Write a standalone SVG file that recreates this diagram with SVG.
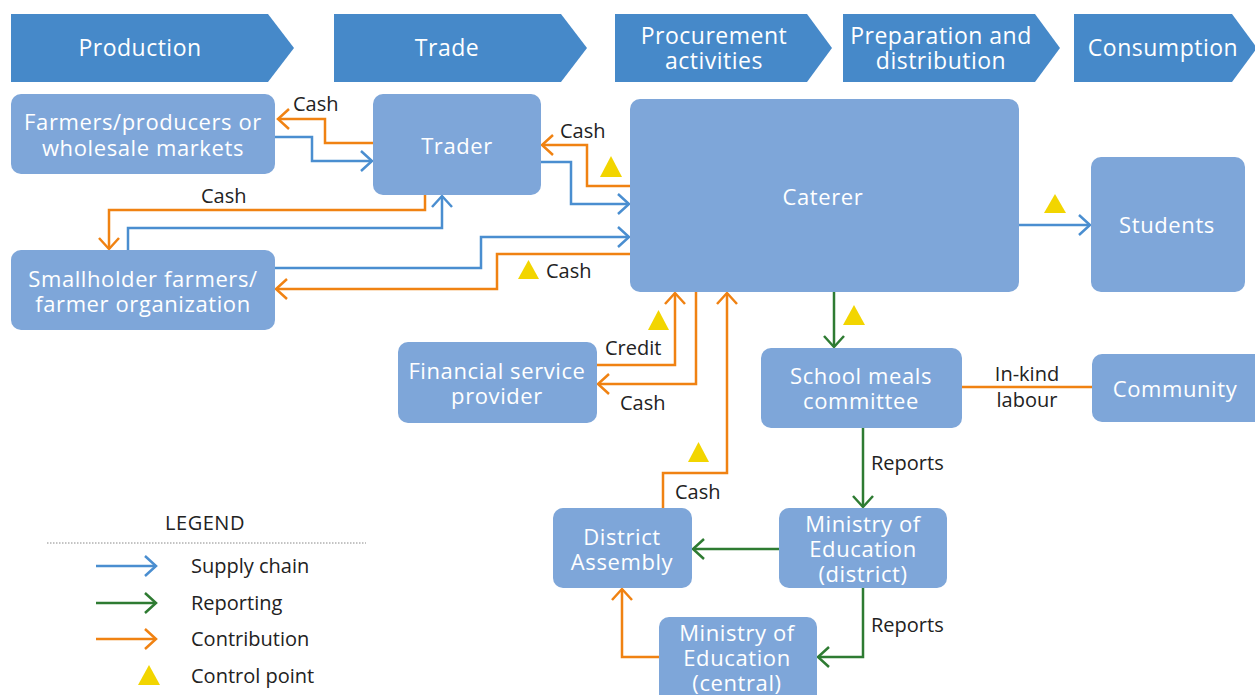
<svg xmlns="http://www.w3.org/2000/svg" width="1255" height="695" viewBox="0 0 1255 695">
<style>
.hd{fill:#4689c9}
.hdt{fill:#fff;font-family:"Open Sans","Noto Sans",sans-serif;font-size:23px;letter-spacing:0.5px;text-anchor:middle}
.nd{fill:#7ea6d9}
.nt{fill:#fff;font-family:"Open Sans","Noto Sans",sans-serif;font-size:22px;letter-spacing:0.6px;text-anchor:middle}
.lb{fill:#222;font-family:"Open Sans","Noto Sans",sans-serif;font-size:20px}
.b{fill:none;stroke:#4a8ed0;stroke-width:2.5}
.o{fill:none;stroke:#f08212;stroke-width:2.5}
.g{fill:none;stroke:#2e7b32;stroke-width:2.5}
.tri{fill:#f2d500}
</style>
<defs>
<marker id="ab" markerUnits="userSpaceOnUse" markerWidth="16" markerHeight="26" viewBox="-14 -12 16 24" refX="0" refY="0" orient="auto"><path d="M-11,-10 L0,0 L-11,10" fill="none" stroke="#4a8ed0" stroke-width="2.5"/></marker>
<marker id="ao" markerUnits="userSpaceOnUse" markerWidth="16" markerHeight="26" viewBox="-14 -12 16 24" refX="0" refY="0" orient="auto"><path d="M-11,-10 L0,0 L-11,10" fill="none" stroke="#f08212" stroke-width="2.5"/></marker>
<marker id="ag" markerUnits="userSpaceOnUse" markerWidth="16" markerHeight="26" viewBox="-14 -12 16 24" refX="0" refY="0" orient="auto"><path d="M-11,-10 L0,0 L-11,10" fill="none" stroke="#2e7b32" stroke-width="2.5"/></marker>
</defs>

<g id="stages">
<g id="stage-production"><polygon class="hd" points="11,14 268,14 294,48 268,82 11,82"/><text class="hdt" x="140" y="56">Production</text></g>
<g id="stage-trade"><polygon class="hd" points="334,14 561,14 587,48 561,82 334,82"/><text class="hdt" x="447" y="56">Trade</text></g>
<g id="stage-procurement"><polygon class="hd" points="615,14 807,14 832,48 807,82 615,82"/><text class="hdt" x="714" y="44">Procurement<tspan x="714" dy="25">activities</tspan></text></g>
<g id="stage-preparation"><polygon class="hd" points="843,14 1035,14 1060,48 1035,82 843,82"/><text class="hdt" x="941" y="44">Preparation and<tspan x="941" dy="25">distribution</tspan></text></g>
<g id="stage-consumption"><polygon class="hd" points="1074,14 1232,14 1257,48 1232,82 1074,82"/><text class="hdt" x="1163" y="56">Consumption</text></g>
</g>

<g id="connectors">
<path class="o" d="M373,143 H325 V119 H278" marker-end="url(#ao)"/>
<path class="b" d="M275,137 H312 V161 H372" marker-end="url(#ab)"/>
<path class="o" d="M630,186 H587 V145 H542" marker-end="url(#ao)"/>
<path class="b" d="M541,162 H571 V204 H629" marker-end="url(#ab)"/>
<path class="o" d="M425,195 V210 H109 V249" marker-end="url(#ao)"/>
<path class="b" d="M128,250 V228 H442 V196" marker-end="url(#ab)"/>
<path class="b" d="M275,268 H481 V237 H629" marker-end="url(#ab)"/>
<path class="o" d="M630,254 H497 V289 H276" marker-end="url(#ao)"/>
<path class="o" d="M597,365 H675 V293" marker-end="url(#ao)"/>
<path class="o" d="M696,292 V384 H598" marker-end="url(#ao)"/>
<path class="o" d="M663,508 V473 H727 V293" marker-end="url(#ao)"/>
<path class="g" d="M834,292 V347" marker-end="url(#ag)"/>
<path class="o" d="M962,387 H1092"/>
<path class="g" d="M863,428 V507" marker-end="url(#ag)"/>
<path class="g" d="M779,549 H693" marker-end="url(#ag)"/>
<path class="g" d="M863,588 V657 H818" marker-end="url(#ag)"/>
<path class="o" d="M659,657 H622 V589" marker-end="url(#ao)"/>
<path class="b" d="M1019,225 H1090" marker-end="url(#ab)"/>
<text class="lb" x="293" y="111">Cash</text>
<text class="lb" x="560" y="138">Cash</text>
<text class="lb" x="201" y="203">Cash</text>
<text class="lb" x="546" y="278">Cash</text>
<text class="lb" x="605" y="355">Credit</text>
<text class="lb" x="620" y="410">Cash</text>
<text class="lb" x="675" y="499">Cash</text>
<text class="lb" x="1027" y="381" text-anchor="middle">In-kind<tspan x="1027" dy="26">labour</tspan></text>
<text class="lb" x="871" y="470">Reports</text>
<text class="lb" x="871" y="632">Reports</text>
</g>

<g id="control-points">
<polygon class="tri" points="600,177 611,156 622,177"/>
<polygon class="tri" points="518,279 528.5,260 539,279"/>
<polygon class="tri" points="648,330 658.5,310 669,330"/>
<polygon class="tri" points="688,462 698.5,442 709,462"/>
<polygon class="tri" points="843,325 854,305 865,325"/>
<polygon class="tri" points="1044,213 1055,194 1066,213"/>
</g>

<g id="node-farmers"><rect class="nd" x="11" y="94" width="264" height="80" rx="10"/><text class="nt" x="143" y="130">Farmers/producers or<tspan x="143" dy="26">wholesale markets</tspan></text></g>
<g id="node-trader"><rect class="nd" x="373" y="94" width="168" height="101" rx="10"/><text class="nt" x="457" y="154">Trader</text></g>
<g id="node-caterer"><rect class="nd" x="630" y="99" width="389" height="193" rx="10"/><text class="nt" x="823" y="205">Caterer</text></g>
<g id="node-students"><rect class="nd" x="1091" y="157" width="154" height="135" rx="10"/><text class="nt" x="1167" y="233">Students</text></g>
<g id="node-smallholder"><rect class="nd" x="11" y="250" width="264" height="80" rx="10"/><text class="nt" x="143" y="287">Smallholder farmers/<tspan x="143" dy="25">farmer organization</tspan></text></g>
<g id="node-fsp"><rect class="nd" x="398" y="342" width="199" height="81" rx="10"/><text class="nt" x="497" y="379">Financial service<tspan x="497" dy="25">provider</tspan></text></g>
<g id="node-smc"><rect class="nd" x="761" y="348" width="201" height="80" rx="10"/><text class="nt" x="861" y="384">School meals<tspan x="861" dy="25">committee</tspan></text></g>
<g id="node-community"><rect class="nd" x="1092" y="354" width="175" height="68" rx="10"/><text class="nt" x="1175" y="397">Community</text></g>
<g id="node-district-assembly"><rect class="nd" x="553" y="508" width="139" height="80" rx="10"/><text class="nt" x="622" y="545">District<tspan x="622" dy="25">Assembly</tspan></text></g>
<g id="node-moe-district"><rect class="nd" x="779" y="508" width="168" height="80" rx="10"/><text class="nt" x="863" y="532">Ministry of<tspan x="863" dy="25">Education</tspan><tspan x="863" dy="25">(district)</tspan></text></g>
<g id="node-moe-central"><rect class="nd" x="659" y="617" width="158" height="90" rx="10"/><text class="nt" x="737" y="641">Ministry of<tspan x="737" dy="25">Education</tspan><tspan x="737" dy="25">(central)</tspan></text></g>

<g id="legend">
<text class="lb" x="205" y="530" text-anchor="middle" letter-spacing="0.5">LEGEND</text>
<line x1="47" y1="543" x2="366" y2="543" stroke="#888" stroke-width="1" stroke-dasharray="1.5,1.5"/>
<path class="b" d="M96,566 H156" marker-end="url(#ab)"/>
<path class="g" d="M96,603 H156" marker-end="url(#ag)"/>
<path class="o" d="M96,639 H156" marker-end="url(#ao)"/>
<polygon class="tri" points="138,685 149,665 160,685"/>
<text class="lb" x="191" y="573">Supply chain</text>
<text class="lb" x="191" y="610">Reporting</text>
<text class="lb" x="191" y="646">Contribution</text>
<text class="lb" x="191" y="683">Control point</text>
</g>
</svg>
